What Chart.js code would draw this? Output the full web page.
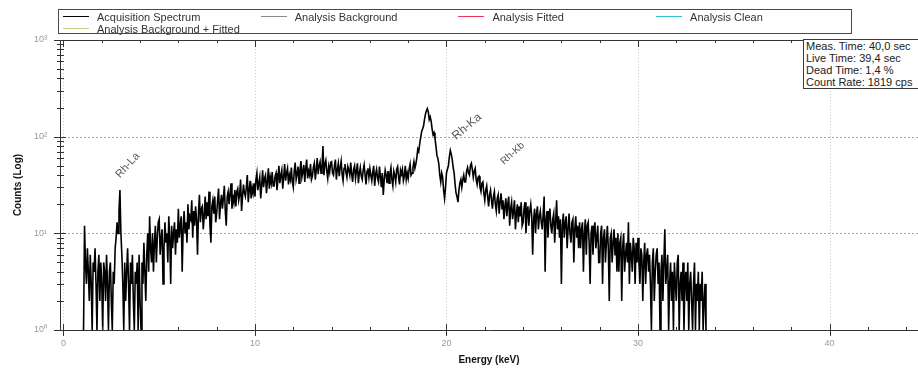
<!DOCTYPE html>
<html>
<head>
<meta charset="utf-8">
<script src="https://cdn.jsdelivr.net/npm/chart.js@4.4.1/dist/chart.umd.min.js"></script>
<style>
  html, body { margin: 0; padding: 0; background: #fff; }
  #wrap { position: relative; width: 918px; height: 372px; overflow: hidden;
          font-family: "Liberation Sans", Arial, sans-serif; }
  #wrap canvas { position: absolute; left: 0; top: 0; }
  #legend { position: absolute; left: 58px; top: 9px; width: 792px; height: 23px;
            border: 1px solid #4a4a4a; background: #fff; }
  #legend .item { position: absolute; font-size: 11px; line-height: 12px; color: #333; white-space: nowrap; }
  #legend .item span.swatch { position: absolute; left: -34px; top: 5px; width: 26px; height: 1px; }
  #info { position: absolute; left: 803px; top: 39px; width: 120px; height: 48px;
          border: 1px solid #3a3a3a; background: #fff; font-size: 11px; line-height: 12px;
          color: #222; padding-left: 2px; white-space: nowrap; }
</style>
</head>
<body>
<div id="wrap">
  <canvas id="spectrum" width="918" height="372"></canvas>
  <div id="legend"></div>
  <div id="info"></div>
</div>
<script>
// ---- Spectrum counts, 0.05 keV per channel ------------------------------
const channelStepKeV = 0.05;

const lowStartKeV = 1.0;            // 1.00 – 4.95 keV (Rh-L region)
const countsLow = [
  0, 0, 12, 5, 3, 7, 4, 2, 6, 3,   0, 5, 4, 7, 3, 0, 4, 6, 2, 5,
  3, 0, 5, 4, 2, 6, 3, 0, 4, 5,    2, 0, 4, 3, 7, 9, 13, 10, 17, 28,
  10, 6, 3, 0, 5, 2, 4, 7, 3, 0,   5, 3, 6, 2, 0, 4, 3, 5, 0, 6,
  2, 0, 5, 3, 8, 4, 2, 6, 10, 4,   15, 7, 5, 10, 4, 8, 12, 5, 9, 13
];

const riseStartKeV = 5.0;           // 5.00 – 9.95 keV
const countsRise = [
  14, 6, 9, 11, 3, 7, 13, 8, 10, 5,     15, 9, 3, 12, 7, 10, 13, 6, 11, 8,
  18, 9, 12, 15, 4, 11, 17, 10, 13, 8,  20, 11, 15, 14, 22, 9, 17, 12, 19, 14,
  6, 16, 25, 13, 18, 19, 11, 15, 24, 14, 21, 15, 27, 12, 8, 19, 22, 16, 24, 13,
  16, 22, 29, 14, 20, 25, 18, 23, 31, 17, 12, 24, 27, 20, 26, 33, 18, 25, 21, 28,
  19, 27, 29, 22, 25, 36, 17, 24, 32, 26, 24, 30, 40, 21, 28, 35, 23, 30, 26, 33
];

const plateauStartKeV = 10.0;       // 10.00 – 18.35 keV (bremsstrahlung hump)
const countsPlateau = [
  24, 36, 42, 28, 33, 38, 23, 31, 45, 30,  37, 40, 26, 34, 47, 29, 38, 33, 43, 31,
  31, 39, 42, 28, 36, 50, 33, 40, 45, 29,  38, 52, 35, 42, 47, 32, 40, 36, 48, 34,
  30, 44, 54, 36, 41, 49, 33, 45, 56, 38,  43, 51, 34, 47, 58, 37, 44, 40, 52, 36,
  39, 48, 53, 36, 45, 60, 41, 50, 55, 42,  47, 80, 40, 52, 57, 44, 37, 49, 43, 54,
  55, 42, 40, 50, 58, 36, 46, 53, 39, 48,  56, 41, 35, 47, 52, 43, 38, 49, 45, 40,
  54, 41, 34, 46, 50, 37, 44, 53, 33, 42,  48, 39, 36, 45, 51, 40, 32, 44, 47, 38,
  47, 40, 35, 43, 50, 31, 41, 46, 37, 34,  49, 39, 30, 42, 25, 36, 45, 40, 33, 44,
  33, 42, 48, 36, 31, 44, 40, 34, 46, 49,  38, 32, 45, 41, 46, 35, 39, 50, 36, 42,
  37, 46, 52, 40, 42, 48, 55, 47
];

const peakStartKeV = 18.4;          // 18.40 – 22.45 keV (Rh-K lines)
const countsPeaks = [
  52, 60, 74, 70, 84, 98, 112, 120, 128, 150,  170, 185, 195, 180, 150, 160, 145, 120, 105, 110,
  96, 80, 64, 60, 52, 40, 34, 42, 38, 28,      23, 30, 42, 46, 50, 62, 72, 66, 58, 48,
  42, 32, 26, 24, 21, 28, 33, 36, 30, 36,      40, 34, 34, 44, 48, 42, 40, 50, 53, 46,
  38, 44, 47, 36, 32, 38, 39, 30, 27, 33,      34, 26, 22, 28, 31, 24, 19, 25, 28, 22,
  18, 24
];

const tailStartKeV = 22.5;          // 22.50 – 33.60 keV
const countsTail = [
  27, 20, 17, 23, 25, 16, 21, 26, 18, 22,
  14, 19, 23, 15, 20, 24, 12, 18, 21, 14,  17, 22, 11, 16, 20, 13, 19, 15, 21, 12,
  13, 18, 21, 10, 16, 19, 12, 17, 20, 15,  6, 14, 18, 10, 16, 19, 11, 15, 17, 13,
  11, 16, 24, 4, 14, 17, 9, 15, 18, 12,    10, 14, 16, 8, 13, 22, 11, 15, 9, 14,
  3, 12, 16, 9, 13, 15, 7, 11, 16, 10,     8, 13, 14, 5, 11, 15, 9, 12, 7, 13,
  7, 11, 13, 4, 10, 14, 6, 12, 13, 8,      3, 10, 12, 6, 11, 13, 7, 9, 12, 5,
  5, 10, 12, 3, 9, 11, 5, 8, 12, 7,        2, 9, 10, 5, 8, 11, 6, 9, 4, 10,
  4, 8, 9, 2, 7, 10, 4, 6, 8, 5,           13, 3, 8, 6, 4, 9, 7, 3, 8, 5,
  9, 5, 3, 7, 6, 2, 5, 8, 3, 6,            7, 4, 6, 3, 0, 5, 7, 2, 4, 6,
  7, 3, 5, 0, 4, 6, 2, 5, 11, 3,           4, 6, 0, 3, 5, 2, 4, 0, 5, 3,
  2, 5, 6, 0, 3, 4, 2, 5, 0, 3,            4, 2, 5, 0, 3, 4, 2, 0, 3, 5,
  0, 3, 2, 4, 0, 3, 2, 4, 0, 2,            3, 0, 0
];

// ---- Axis ticks ---------------------------------------------------------
const energyTicks = [0, 10, 20, 30, 40];
const countDecades = [1, 10, 100, 1000];

// ---- Legend series --------------------------------------------------------
const seriesNames = ['Acquisition Spectrum', 'Analysis Background', 'Analysis Fitted',
                     'Analysis Clean', 'Analysis Background + Fitted'];
const seriesColors = ['#000000', '#8c8c8c', '#e8365c', '#2ec4d6', '#c9c98a'];

// ---- Peak markers --------------------------------------------------------
const peakNames = ['Rh-La', 'Rh-Ka', 'Rh-Kb'];
const peakLabelKeV = [2.95, 20.5, 23.0];
const peakLabelCounts = [37, 92, 51];

// ---- Measurement info -------------------------------------------------------
const infoLines = ['Meas. Time: 40,0 sec', 'Live Time: 39,4 sec', 'Dead Time: 1,4 %', 'Count Rate: 1819 cps'];

// Zero counts sit on the floor of the log axis
const countsFloor = 1;
function channels(startKeV, counts) {
  return counts.map((c, i) => ({
    x: +(startKeV + i * channelStepKeV).toFixed(2),
    y: Math.max(c, countsFloor)
  }));
}
const spectrum = [].concat(
  channels(lowStartKeV, countsLow),
  channels(riseStartKeV, countsRise),
  channels(plateauStartKeV, countsPlateau),
  channels(peakStartKeV, countsPeaks),
  channels(tailStartKeV, countsTail)
);

const superDigits = { '0': '\u2070', '1': '\u00B9', '2': '\u00B2', '3': '\u00B3' };

// Grid lines, tick marks, top frame and peak labels
const peakLabelStyle = [
  { size: 11, angle: 48 }, { size: 12, angle: 40 }, { size: 10, angle: 42 }
];
const spectrumDecor = {
  id: 'spectrumDecor',
  beforeDatasetsDraw(chart) {
    const { ctx, chartArea: a, scales: { x, y } } = chart;
    ctx.save();
    ctx.lineWidth = 1;
    ctx.setLineDash([1, 2]);
    ctx.strokeStyle = '#cccccc';
    energyTicks.forEach(e => {
      const px = Math.round(x.getPixelForValue(e)) + 0.5;
      ctx.beginPath(); ctx.moveTo(px, a.top); ctx.lineTo(px, a.bottom); ctx.stroke();
    });
    ctx.setLineDash([2, 2]);
    ctx.strokeStyle = '#a6a6a6';
    countDecades.slice(1, 3).forEach(v => {
      const py = Math.round(y.getPixelForValue(v)) + 0.5;
      ctx.beginPath(); ctx.moveTo(a.left, py); ctx.lineTo(a.right, py); ctx.stroke();
    });
    ctx.restore();
  },
  afterDatasetsDraw(chart) {
    const { ctx, chartArea: a, scales: { x, y } } = chart;
    ctx.save();
    ctx.strokeStyle = '#333';
    ctx.lineWidth = 1;
    // top frame
    ctx.beginPath(); ctx.moveTo(a.left, a.top + 0.5); ctx.lineTo(a.right, a.top + 0.5); ctx.stroke();
    // energy ticks every 2 keV, long ones at labelled energies
    for (let e = 0; e <= x.max; e += 2) {
      const px = Math.round(x.getPixelForValue(e)) + 0.5;
      const major = e % 10 === 0;
      ctx.beginPath();
      ctx.moveTo(px, a.bottom - (major ? 6 : 3)); ctx.lineTo(px, a.bottom + (major ? 6 : 1));
      ctx.moveTo(px, a.top); ctx.lineTo(px, a.top + (major ? 7 : 3));
      ctx.stroke();
    }
    // count ticks, decades long and 2..9 short
    countDecades.forEach(d => {
      for (let m = 1; m <= 9; m++) {
        const v = d * m;
        if (v > y.max) break;
        const py = Math.round(y.getPixelForValue(v)) + 0.5;
        const major = m === 1;
        ctx.beginPath();
        ctx.moveTo(a.left - (major ? 6 : 3), py); ctx.lineTo(a.left + (major ? 6 : 4), py);
        ctx.stroke();
      }
    });
    // peak identification labels
    ctx.fillStyle = '#555';
    ctx.textBaseline = 'alphabetic';
    peakNames.forEach((name, i) => {
      const st = peakLabelStyle[i];
      const px = x.getPixelForValue(peakLabelKeV[i]);
      const py = y.getPixelForValue(peakLabelCounts[i]);
      ctx.save();
      ctx.translate(px, py);
      ctx.rotate(-st.angle * Math.PI / 180);
      ctx.font = st.size + 'px "Liberation Sans", Arial, sans-serif';
      ctx.fillText(name, 0, 0);
      ctx.restore();
    });
    ctx.restore();
  }
};

const datasets = seriesNames.map((name, i) => ({
  label: name,
  data: i === 0 ? spectrum : [],
  borderColor: seriesColors[i],
  backgroundColor: seriesColors[i],
  borderWidth: 1.6,
  pointRadius: 0,
  tension: 0,
  fill: false,
  spanGaps: true
}));

new Chart(document.getElementById('spectrum'), {
  type: 'line',
  data: { datasets },
  options: {
    responsive: false,
    devicePixelRatio: 1,
    animation: false,
    layout: { padding: { top: 40, right: 0, left: 0, bottom: 0 }, autoPadding: false },
    plugins: { legend: { display: false }, tooltip: { enabled: false } },
    scales: {
      x: {
        type: 'linear',
        min: -0.18,
        max: 44.62,
        afterBuildTicks: s => { s.ticks = energyTicks.map(v => ({ value: v })); },
        afterFit: s => { s.height = 42; },
        grid: { display: false, drawTicks: false },
        border: { display: true, color: '#333', width: 1 },
        ticks: { color: '#999', font: { size: 9, family: '"Liberation Sans", Arial, sans-serif' },
                 padding: 8, maxRotation: 0, autoSkip: false },
        title: { display: true, text: 'Energy (keV)', color: '#111',
                 font: { size: 10, weight: 'bold', family: '"Liberation Sans", Arial, sans-serif' },
                 padding: { top: 0, bottom: 6 } }
      },
      y: {
        type: 'logarithmic',
        min: 1,
        max: 1000,
        afterBuildTicks: s => { s.ticks = countDecades.map(v => ({ value: v })); },
        afterFit: s => { s.width = 60; },
        grid: { display: false, drawTicks: false },
        border: { display: true, color: '#333', width: 1 },
        ticks: {
          color: '#999',
          font: { size: 9, family: '"Liberation Sans", Arial, sans-serif' },
          padding: 13,
          autoSkip: false,
          callback: v => '10' + superDigits[String(Math.round(Math.log10(v)))]
        },
        title: { display: true, text: 'Counts (Log)', color: '#111',
                 font: { size: 10, weight: 'bold', family: '"Liberation Sans", Arial, sans-serif' },
                 padding: { top: 12, bottom: 0 } }
      }
    }
  },
  plugins: [spectrumDecor]
});

// HTML legend in four columns
const legendEl = document.getElementById('legend');
seriesNames.forEach((name, i) => {
  const item = document.createElement('div');
  item.className = 'item';
  item.style.left = (38 + (i % 4) * 197.7) + 'px';
  item.style.top = (1 + Math.floor(i / 4) * 12) + 'px';
  const swatch = document.createElement('span');
  swatch.className = 'swatch';
  swatch.style.background = seriesColors[i];
  item.appendChild(swatch);
  item.appendChild(document.createTextNode(name));
  legendEl.appendChild(item);
});

document.getElementById('info').innerHTML = infoLines.map(t => '<div>' + t + '</div>').join('');
</script>
</body>
</html>
